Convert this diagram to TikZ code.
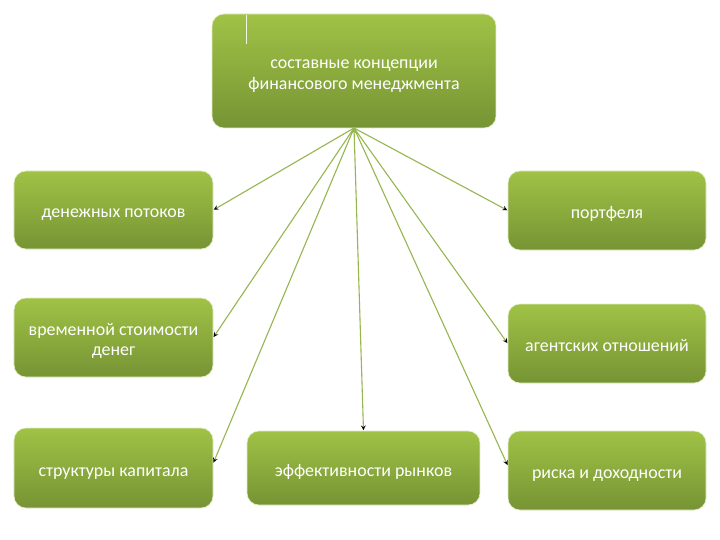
\documentclass[tikz,border=0pt]{standalone}
\usepackage{fontspec}
\setmainfont{Carlito}
\definecolor{boxtop}{RGB}{160,194,70}
\definecolor{boxbottom}{RGB}{118,148,52}
\definecolor{linkgreen}{RGB}{150,182,80}
\newcommand{\topstrut}{\rule{0pt}{20bp}}
\tikzset{
  concept/.style={rounded corners=12bp, top color=boxtop, bottom color=boxbottom,
    draw=white!70!boxtop, line width=0.6bp, text=white, align=center,
    font=\fontsize{18}{21}\selectfont, inner sep=0pt,
    execute at begin node={\rule[-4bp]{0pt}{24bp}}},
  link/.style={->, >=stealth, draw=linkgreen, line width=1.1bp, shorten >=0.5bp}
}
\begin{document}
\begin{tikzpicture}[x=1bp, y=-1bp]
		\useasboundingbox[fill=white] (0,0) rectangle (720,540);
		\node[concept, minimum width=284bp, minimum height=114bp] (Top) at (354,71) {\topstrut составные концепции\\финансового менеджмента};
		\draw[white!85!boxtop, line width=1bp] (246,15) -- (246,44);
		
		\node[concept, minimum width=199bp, minimum height=78bp] (Flow) at (113.5,210) {денежных потоков};
		\node[concept, minimum width=199bp, minimum height=79bp] (Time) at (113.5,337.5) {\topstrut временной стоимости\\денег};
		\node[concept, minimum width=199bp, minimum height=80bp] (Cap) at (113.5,468) {структуры капитала};
		\node[concept, minimum width=233bp, minimum height=74bp] (Eff) at (363.5,468) {эффективности рынков};
		\node[concept, minimum width=198bp, minimum height=79bp] (Port) at (607,210.5) {портфеля};
		\node[concept, minimum width=198bp, minimum height=79bp] (Agent) at (607,343.5) {агентских отношений};
		\node[concept, minimum width=198bp, minimum height=79bp] (Risk) at (607,470.5) {риска и доходности};
		
		\coordinate (hub) at (354,128);
		\path [link] (hub) edge (Flow.east);
		\path [link] (hub) edge (Time.east);
		\path [link] (hub) edge ([yshift=5bp]Cap.east);
		\path [link] (hub) edge (Eff.north);
		\path [link] (hub) edge (Port.west);
		\path [link] (hub) edge (Agent.west);
		\path [link] (hub) edge ([yshift=5bp]Risk.west);
\end{tikzpicture}
\end{document}
